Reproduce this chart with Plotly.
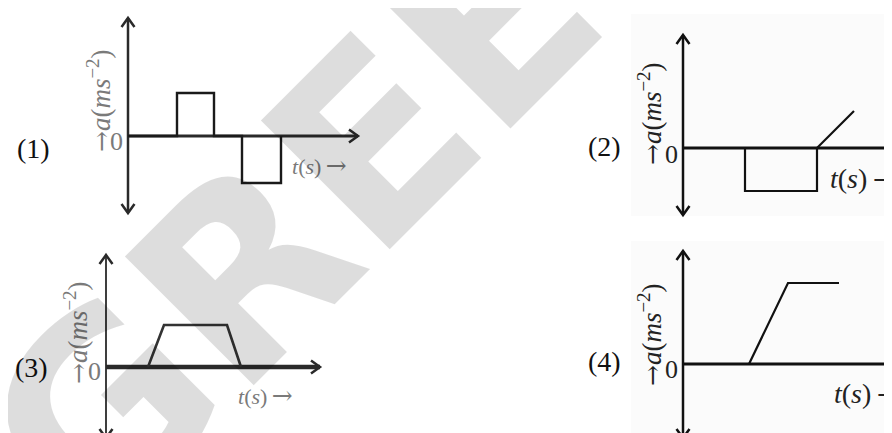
import plotly.graph_objects as go

# Canvas
W, H = 892, 433
PX = 10  # pixels per unit on every little graph

# ------------------------------------------------------------------------
# Graph data (t in s, a in m/s^2)
g1_t = [0, 4.9, 4.9, 8.6, 8.6, 11.4, 11.4, 15.3, 15.3]
g1_a = [0, 0, 4.3, 4.3, 0, 0, -4.7, -4.7, 0]

g2_t = [0, 6.2, 6.2, 13.4, 13.4, 6.2, 13.4, 17.1]
g2_a = [0, 0, -4.3, -4.3, 0, 0, 0, 3.7]

g3_t = [4.2, 5.8, 12.1, 13.5]
g3_a = [0, 4.2, 4.2, 0]

g4_t = [6.6, 10.5, 15.6]
g4_a = [0, 8.1, 8.1]

panel_names = ["(1)", "(2)", "(3)", "(4)"]
ARROW = "<span style='font-family:DejaVu Serif;font-size:25px'>→</span>"
y_label = ARROW + "<i>a</i>(<i>ms</i><sup>−2</sup>)"
x_label = "<i>t</i>(<i>s</i>)\u2009" + ARROW

SERIF = "Liberation Serif, Times New Roman, serif"

# Panel boxes in pixels: left, right, top, bottom, origin x, origin y
boxes = [
    (0, 400, 0, 216, 120, 128),
    (570, 892, 0, 216, 675, 140),
    (0, 400, 222, 433, 98, 359),
    (570, 892, 222, 433, 675, 356),
]
# axis extents (t max, a min, a max) for each panel
axis_ext = [(23, -7.7, 11.8), (21.7, -6.7, 11.3), (21.4, -7.1, 11.2), (21.7, -7.4, 11.3)]
# label positions in panel units: name, y-label, zero, t-label
label_pos = [
    [(-9.5, -1.2), (-2.9, 3.5), (-1.2, -0.5), (16.2, -2.9)],
    [(-7.9, 0.2), (-3.3, 3.4), (-1.2, -0.6), (14.5, -3.0)],
    [(-7.5, 0.0), (-3.0, 3.4), (-1.2, -0.4), (13.0, -2.8)],
    [(-7.9, 0.3), (-3.3, 2.9), (-1.2, -0.5), (14.9, -2.9)],
]
faded = [True, False, True, False]

fig = go.Figure()

def suffix(i):
    return "" if i == 0 else str(i + 1)

for i, (l, r, t, b, ox, oy) in enumerate(boxes):
    xa, ya = "x" + suffix(i), "y" + suffix(i)
    fig.layout["xaxis" + suffix(i)] = dict(
        domain=[l / W, r / W], range=[(l - ox) / PX, (r - ox) / PX],
        visible=False, fixedrange=True, anchor=ya)
    fig.layout["yaxis" + suffix(i)] = dict(
        domain=[1 - b / H, 1 - t / H], range=[(oy - b) / PX, (oy - t) / PX],
        visible=False, fixedrange=True, anchor=xa)

    tmax, amin, amax = axis_ext[i]
    ac = "#2a2a2a" if faded[i] else "#111"
    hw = 3 if i != 2 else 4.5
    # axes with chevron heads
    fig.add_trace(go.Scatter(x=[0, tmax], y=[0, 0], mode="lines", xaxis=xa, yaxis=ya,
                             line=dict(color=ac, width=hw), hoverinfo="skip", showlegend=False))
    fig.add_trace(go.Scatter(x=[0, 0], y=[amin, amax], mode="lines", xaxis=xa, yaxis=ya,
                             line=dict(color=ac, width=2.5 if i != 2 else 1.8),
                             hoverinfo="skip", showlegend=False))
    hx, hy = [], []
    for (px_, py_, dx, dy) in [(tmax, 0, -1, 0), (0, amax, 0, -1), (0, amin, 0, 1)]:
        if dx:
            hx += [px_ + dx * 0.9, px_, px_ + dx * 0.9, None]
            hy += [py_ + 0.65, py_, py_ - 0.65, None]
        else:
            hx += [px_ - 0.65, px_, px_ + 0.65, None]
            hy += [py_ + dy * 0.9, py_, py_ + dy * 0.9, None]
    fig.add_trace(go.Scatter(x=hx, y=hy, mode="lines", xaxis=xa, yaxis=ya,
                             line=dict(color=ac, width=2.5), hoverinfo="skip", showlegend=False))

    # labels
    tc = "#7a7a7a" if faded[i] else "#222"
    (nx, ny), (yx, yy), (zx, zy), (tx, ty) = label_pos[i]
    fig.add_annotation(x=nx, y=ny, xref=xa, yref=ya, text=panel_names[i], showarrow=False,
                       font=dict(family=SERIF, size=28, color="#111"))
    fig.add_annotation(x=yx, y=yy, xref=xa, yref=ya, text=y_label, showarrow=False, textangle=-90,
                       font=dict(family=SERIF, size=27, color=tc))
    fig.add_annotation(x=zx, y=zy, xref=xa, yref=ya, text="0", showarrow=False,
                       font=dict(family=SERIF, size=26, color=tc))
    fig.add_annotation(x=tx, y=ty, xref=xa, yref=ya, text=x_label, showarrow=False, xanchor="left",
                       font=dict(family=SERIF, size=22 if faded[i] else 28, color=tc))

# the curves
curves = [(g1_t, g1_a, 2.4, "#1a1a1a"), (g2_t, g2_a, 2.2, "#111"),
          (g3_t, g3_a, 2.6, "#333"), (g4_t, g4_a, 2.2, "#111")]
for i, (tt, aa, w, c) in enumerate(curves):
    fig.add_trace(go.Scatter(x=tt, y=aa, mode="lines", xaxis="x" + suffix(i), yaxis="y" + suffix(i),
                             line=dict(color=c, width=w), hoverinfo="skip", showlegend=False))

# faint scan background behind the right-hand graphs
for (l, r, t, b) in [(623, 892, 6, 208), (623, 892, 233, 433)]:
    fig.add_shape(type="rect", xref="paper", yref="paper", x0=l / W, x1=r / W,
                  y0=1 - b / H, y1=1 - t / H, fillcolor="#fbfbfb", line_width=0, layer="below")

# watermark
fig.add_annotation(x=358 / W, y=1 - 142 / H, xref="paper", yref="paper", text="<b>GREEN</b>",
                   showarrow=False, textangle=-45, xanchor="center", yanchor="middle",
                   font=dict(family="DejaVu Sans", size=250, color="rgba(0,0,0,0.135)"))

fig.update_layout(width=W, height=H, margin=dict(l=0, r=0, t=0, b=0),
                  paper_bgcolor="white", plot_bgcolor="rgba(0,0,0,0)", showlegend=False)

fig.write_html("out.html")
